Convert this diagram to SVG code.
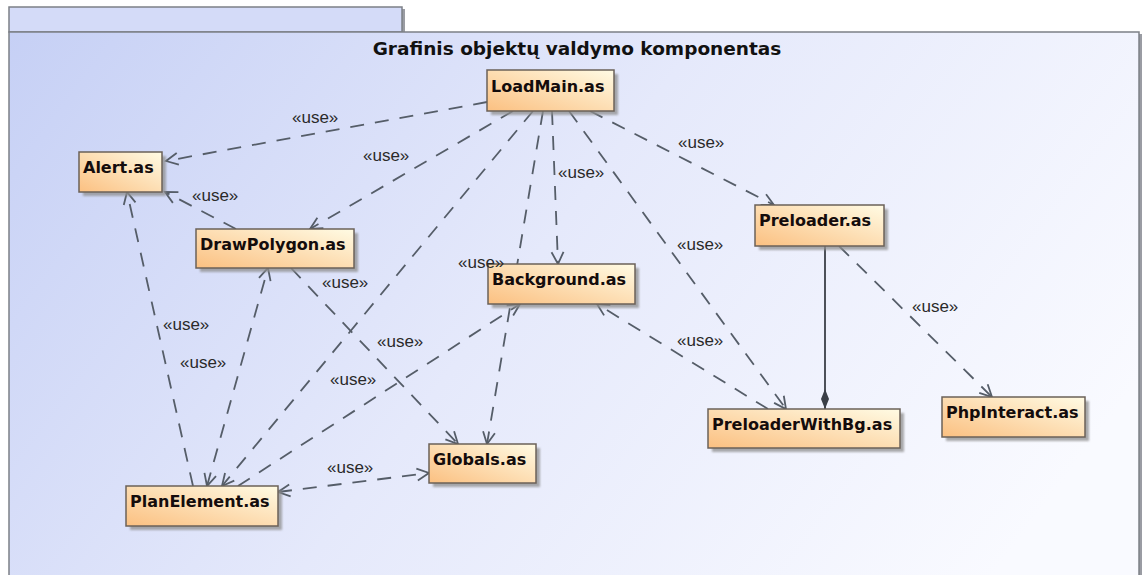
<svg xmlns="http://www.w3.org/2000/svg" width="1142" height="575" viewBox="0 0 1142 575">
<defs>
<style>
.pkg{fill:url(#pkgGrad);stroke:#7c8087;stroke-width:1.5}
.tab{fill:#d4dbf8;stroke:#7c8087;stroke-width:1.5}
.pshadow{fill:#9a9ca3}
.title{font-family:"DejaVu Sans",sans-serif;font-weight:bold;font-size:18.5px;fill:#111}
.box{fill:url(#nodeGrad);stroke:#6b6158;stroke-width:1.5}
.shadow{fill:#8f8f8f;opacity:0.75;filter:url(#blur)}
.name{font-family:"DejaVu Sans",sans-serif;font-weight:bold;font-size:16px;fill:#140c0c}
.dep{fill:none;stroke:#555d68;stroke-width:1.8;stroke-dasharray:14 11;marker-end:url(#open)}
.both{marker-start:url(#open)}
.comp{fill:none;stroke:#3a3f47;stroke-width:1.8;marker-end:url(#diamond)}
.lbl{font-family:"Liberation Sans",Arial,sans-serif;font-size:17px;fill:#2a2a2a}
.ah{fill:none;stroke:#555d68;stroke-width:1.8}
</style>
<linearGradient id="pkgGrad" gradientUnits="userSpaceOnUse" x1="9" y1="32" x2="900" y2="700">
<stop offset="0" stop-color="#c6d0f5"/>
<stop offset="0.5" stop-color="#e5e9fb"/>
<stop offset="1" stop-color="#f9faff"/>
</linearGradient>
<linearGradient id="nodeGrad" x1="0" y1="1" x2="1" y2="0">
<stop offset="0" stop-color="#fbc081"/>
<stop offset="1" stop-color="#fffbe4"/>
</linearGradient>
<filter id="blur" x="-10%" y="-20%" width="130%" height="150%"><feGaussianBlur stdDeviation="1.2"/></filter>
<marker id="open" markerUnits="userSpaceOnUse" viewBox="-14 -8 16 16" markerWidth="16" markerHeight="16" refX="0" refY="0" orient="auto-start-reverse" overflow="visible">
<path class="ah" d="M-12,-6 L0,0 L-12,6"/>
</marker>
<marker id="diamond" markerUnits="userSpaceOnUse" viewBox="-22 -6 24 12" markerWidth="24" markerHeight="12" refX="0" refY="0" orient="auto" overflow="visible">
<path d="M0,0 L-10,-4 L-20,0 L-10,4 Z" fill="#3a3f47"/>
</marker>
</defs>

<g id="package">
<rect class="pshadow" x="402" y="9" width="3" height="23"/>
<rect class="pshadow" x="1139" y="34" width="3" height="545"/>
<rect class="tab" x="9" y="7" width="393" height="25"/>
<rect class="pkg" x="9" y="32" width="1130" height="560"/>
<text class="title" x="577" y="55" text-anchor="middle">Grafinis objektų valdymo komponentas</text>
</g>

<g id="connectors">
<path class="dep" d="M487,102 L166,161"/>
<path class="dep" d="M513,111 L310,229"/>
<path class="dep" d="M236,229 L165,192"/>
<path class="dep" d="M552,111 L558,264"/>
<path class="dep" d="M590,111 L774,205"/>
<path class="dep" d="M569,111 L786,409"/>
<path class="dep" d="M533,111 L222,486"/>
<path class="dep" d="M543,111 L487,444"/>
<path class="dep" d="M291,268 L458,444"/>
<path class="dep" d="M193,486 L127,192"/>
<path class="dep both" d="M207,486 L268,268"/>
<path class="dep" d="M238,486 L520,304"/>
<path class="dep" d="M768,409 L597,304"/>
<path class="dep" d="M839,246 L992,397"/>
<path class="dep both" d="M278,492 L429,473"/>
<path class="comp" d="M825,246 L825,409"/>
</g>

<g id="n-loadmain"><rect class="shadow" x="491" y="74" width="127" height="41"/><rect class="box" x="487" y="70" width="127" height="41"/><text class="name" x="491" y="92">LoadMain.as</text></g>
<g id="n-alert"><rect class="shadow" x="83" y="156" width="83" height="40"/><rect class="box" x="79" y="152" width="83" height="40"/><text class="name" x="83" y="173">Alert.as</text></g>
<g id="n-drawpolygon"><rect class="shadow" x="200" y="233" width="158" height="39"/><rect class="box" x="196" y="229" width="158" height="39"/><text class="name" x="200" y="250">DrawPolygon.as</text></g>
<g id="n-background"><rect class="shadow" x="492" y="268" width="147" height="40"/><rect class="box" x="488" y="264" width="147" height="40"/><text class="name" x="492" y="285">Background.as</text></g>
<g id="n-preloader"><rect class="shadow" x="759" y="209" width="129" height="41"/><rect class="box" x="755" y="205" width="129" height="41"/><text class="name" x="759" y="226">Preloader.as</text></g>
<g id="n-preloaderwithbg"><rect class="shadow" x="712" y="413" width="192" height="39"/><rect class="box" x="708" y="409" width="192" height="39"/><text class="name" x="712" y="430">PreloaderWithBg.as</text></g>
<g id="n-phpinteract"><rect class="shadow" x="946" y="401" width="143" height="40"/><rect class="box" x="942" y="397" width="143" height="40"/><text class="name" x="946" y="418">PhpInteract.as</text></g>
<g id="n-globals"><rect class="shadow" x="433" y="448" width="107" height="39"/><rect class="box" x="429" y="444" width="107" height="39"/><text class="name" x="433" y="465">Globals.as</text></g>
<g id="n-planelement"><rect class="shadow" x="130" y="490" width="152" height="40"/><rect class="box" x="126" y="486" width="152" height="40"/><text class="name" x="130" y="507">PlanElement.as</text></g>

<g id="labels">
<text class="lbl" x="292" y="123">«use»</text>
<text class="lbl" x="363" y="161">«use»</text>
<text class="lbl" x="192" y="201">«use»</text>
<text class="lbl" x="558" y="178">«use»</text>
<text class="lbl" x="678" y="148">«use»</text>
<text class="lbl" x="677" y="250">«use»</text>
<text class="lbl" x="322" y="288">«use»</text>
<text class="lbl" x="458" y="268">«use»</text>
<text class="lbl" x="377" y="347">«use»</text>
<text class="lbl" x="163" y="330">«use»</text>
<text class="lbl" x="180" y="368">«use»</text>
<text class="lbl" x="330" y="385">«use»</text>
<text class="lbl" x="677" y="346">«use»</text>
<text class="lbl" x="912" y="312">«use»</text>
<text class="lbl" x="327" y="473">«use»</text>
</g>
</svg>
